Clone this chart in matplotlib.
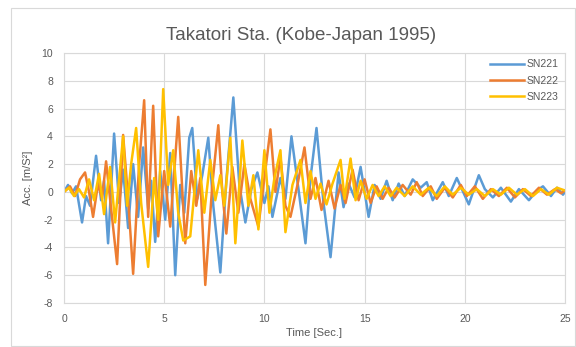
import matplotlib
matplotlib.use("Agg")
import matplotlib.pyplot as plt
from matplotlib.patches import Rectangle

# (turning points of each record)
t_sn221 = [0.0, 0.2, 0.4, 0.6, 0.9, 1.1, 1.3, 1.6, 1.85, 2.0, 2.2, 2.5, 2.75, 2.95, 3.2, 3.45, 3.7, 3.95,
           4.2, 4.35, 4.55, 4.8, 5.05, 5.3, 5.55, 5.8, 6.0, 6.25, 6.4, 6.65, 6.9, 7.2, 7.45, 7.8, 8.1, 8.45, 8.75,
           9.05, 9.35, 9.65, 10.0, 10.2, 10.4, 10.8, 11.05, 11.35, 11.7, 12.05, 12.3, 12.6, 12.95, 13.3, 13.7,
           13.95, 14.2, 14.5, 14.8, 15.2, 15.5, 15.8, 16.1, 16.4, 16.7, 17.0, 17.4, 17.8, 18.1, 18.4, 18.9,
           19.2, 19.6, 20.2, 20.7, 21.0, 21.4, 21.8, 22.3, 22.7, 23.2, 23.6, 23.9, 24.3, 24.6, 24.9, 25.0]
a_sn221 = [0.0, 0.5, -0.1, 0.4, -2.2, -0.3, -1.0, 2.6, -0.6, 0.8, -3.7, 4.2, -0.8, 1.6, -2.6, 2.0, -1.8, 3.2,
           -1.2, 0.8, -3.6, 1.5, -2.0, 2.8, -6.0, 0.5, -1.5, 3.9, 4.6, -0.5, 1.2, 3.9, -1.0, -5.8, 0.8, 6.8, 0.5,
           -2.2, 0.2, 1.4, -0.8, 0.4, -1.8, 1.0, -0.5, 4.0, 0.2, -3.7, 1.0, 4.6, -0.8, -4.7, 1.4,
           -1.1, 0.6, -0.4, 1.8, -1.8, 0.5, -0.5, 0.8, -0.6, 0.6, -0.3, 0.9, 0.3, 0.7, -0.6, 0.7,
           -0.3, 1.0, -0.9, 1.2, 0.2, -0.4, 0.3, -0.7, 0.2, -0.6, 0.1, 0.4, -0.3, 0.3, -0.2, 0.0]

t_sn222 = [0.0, 0.3, 0.55, 0.8, 1.05, 1.25, 1.45, 1.7, 1.9, 2.1, 2.35, 2.65, 2.95, 3.2, 3.45, 3.75, 4.0, 4.2,
           4.45, 4.7, 5.0, 5.3, 5.7, 6.05, 6.35, 6.6, 6.8, 7.05, 7.4, 7.7, 7.9, 8.1, 8.4, 8.7, 9.0, 9.3,
           9.7, 10.0, 10.3, 10.55, 10.8, 11.05, 11.3, 11.65, 12.0, 12.3, 12.55, 12.85, 13.2, 13.5, 13.8,
           14.05, 14.4, 14.7, 15.0, 15.3, 15.6, 15.9, 16.2, 16.5, 16.9, 17.3, 17.6, 17.9, 18.3, 18.6,
           19.0, 19.4, 19.8, 20.1, 20.5, 20.9, 21.3, 21.7, 22.1, 22.5, 22.9, 23.3, 23.7, 24.1, 24.5, 24.8, 25.0]
a_sn222 = [0.0, 0.4, -0.3, 0.9, 1.4, 0.0, -1.8, 0.6, -0.5, 2.2, -1.2, -5.2, 4.1, -0.5, -5.9, 2.0, 6.6, -1.8,
           6.2, -3.2, 1.5, -2.5, 5.4, -3.7, 1.5, -1.0, 1.0, -6.7, 0.5, 4.8, 0.0, -3.0, 1.8, -1.5, 2.0, -0.5,
           -2.5, 1.0, 4.5, 0.0, 2.5, -1.0, -1.8, 0.5, 3.2, -0.5, 1.0, -1.3, 0.8, -1.2, 0.5,
           -0.8, 1.6, -0.6, 0.9, -0.8, 0.4, -0.5, 0.3, -0.4, 0.5, -0.2, 0.7, -0.3, 0.4, -0.5,
           0.3, -0.4, 0.5, -0.3, 0.4, -0.5, 0.2, -0.3, 0.3, -0.4, 0.2, -0.3, 0.3, -0.2, 0.2, -0.1, 0.1]

t_sn223 = [0.0, 0.25, 0.5, 0.75, 1.0, 1.25, 1.5, 1.75, 2.0, 2.3, 2.55, 2.95, 3.15, 3.35, 3.6, 3.85, 4.2, 4.5,
           4.7, 4.95, 5.2, 5.45, 5.7, 5.95, 6.3, 6.7, 7.0, 7.3, 7.55, 7.8, 8.0, 8.3, 8.55, 8.9, 9.2, 9.45,
           9.7, 10.0, 10.25, 10.5, 10.8, 11.05, 11.4, 11.8, 12.05, 12.3, 12.55, 12.8, 13.1, 13.4, 13.8,
           14.0, 14.3, 14.55, 14.8, 15.1, 15.4, 15.7, 16.0, 16.3, 16.6, 17.0, 17.4, 17.8, 18.2, 18.6,
           19.0, 19.4, 19.8, 20.2, 20.6, 21.0, 21.4, 21.8, 22.2, 22.6, 23.0, 23.4, 23.8, 24.2, 24.6, 25.0]
a_sn223 = [0.0, 0.3, -0.3, 0.2, -0.4, 0.9, -0.6, 1.3, -1.6, 1.8, -2.2, 4.0, -1.0, 2.0, 4.6, -0.8, -5.4, 1.0,
           -2.0, 7.4, 0.5, 3.0, -1.5, -3.5, -3.2, 3.0, -1.5, 2.3, -0.6, 1.2, -1.0, 3.9, -3.7, 3.7, -1.0, 1.2,
           -2.7, 3.0, -1.5, 1.0, 3.0, -2.9, 0.5, 2.3, -0.8, 1.5, -0.5, 0.6, -0.9, 0.6, 2.3,
           -0.5, 2.4, -0.6, 0.8, -0.5, 0.5, -0.3, 0.4, -0.3, 0.3, -0.3, 0.4, -0.2, 0.3, -0.3,
           0.4, -0.2, 0.3, -0.2, 0.2, -0.3, 0.2, -0.2, 0.3, -0.2, 0.2, -0.3, 0.2, -0.2, 0.3, 0.1]

series_names = ["SN221", "SN222", "SN223"]
series_colors = ["#5B9BD5", "#ED7D31", "#FFC000"]
x_ticks = [0, 5, 10, 15, 20, 25]
y_ticks = [-8, -6, -4, -2, 0, 2, 4, 6, 8, 10]

plt.rcParams['font.family'] = ['Liberation Sans', 'DejaVu Sans']
plt.rcParams['axes.unicode_minus'] = False
txt = "#595959"
grid = "#D9D9D9"

fig = plt.figure(figsize=(5.76, 3.47), dpi=100)
# chart area border
fig.patches.append(Rectangle((11 / 576, 1 / 347), 564 / 576, 338 / 347, transform=fig.transFigure,
                             fill=False, edgecolor=grid, lw=0.8))

ax = fig.add_axes([64 / 576, 1 - 303 / 347, 501 / 576, 250 / 347])
for t, a, name, c in zip([t_sn221, t_sn222, t_sn223], [a_sn221, a_sn222, a_sn223], series_names, series_colors):
    ax.plot(t, a, color=c, lw=1.8, label=name)

ax.set_xlim(0, 25)
ax.set_ylim(-8, 10)
ax.set_xticks(x_ticks)
ax.set_yticks(y_ticks)
ax.grid(True, color=grid, lw=0.8)
ax.set_axisbelow(True)
for s in ax.spines.values():
    s.set_color(grid)
    s.set_linewidth(0.8)
ax.tick_params(length=0, colors=txt, labelsize=7.5, pad=8)

fig.text(301 / 576, 1 - 36 / 347, "Takatori Sta. (Kobe-Japan 1995)", color=txt, fontsize=13.5,
         ha="center", va="center")
ax.set_xlabel("Time [Sec.]", color=txt, fontsize=8, labelpad=3)
ax.set_ylabel("Acc. [m/S²]", color=txt, fontsize=8, labelpad=6)

leg = ax.legend(loc="upper right", frameon=False, fontsize=7.5, handlelength=3.2, labelspacing=0.6,
                borderaxespad=0.2, handletextpad=0.3)
for t in leg.get_texts():
    t.set_color(txt)

fig.savefig("out.png", dpi=100)
